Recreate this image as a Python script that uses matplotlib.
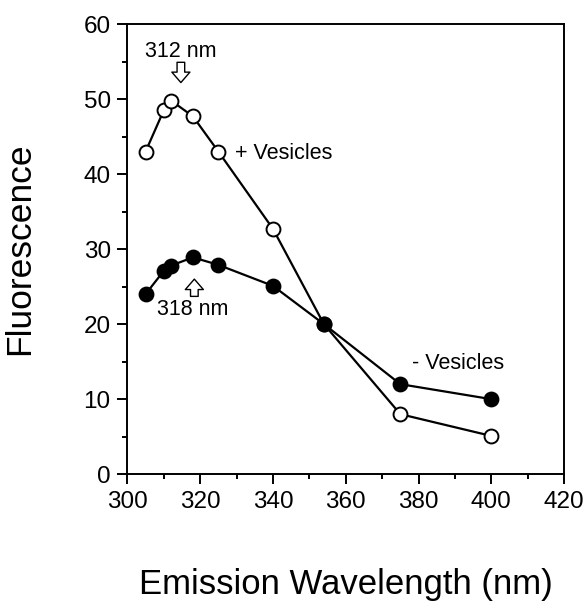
import matplotlib
matplotlib.use('Agg')
import matplotlib.pyplot as plt
from matplotlib.ticker import MultipleLocator

# --- Data ---
wl_plus = [305, 310, 312, 318, 325, 340, 354, 375, 400]
fl_plus = [43.0, 48.5, 49.8, 47.7, 43.0, 32.7, 20.0, 8.0, 5.1]

wl_minus = [305, 310, 312, 318, 325, 340, 354, 375, 400]
fl_minus = [24.0, 27.1, 27.8, 28.9, 27.9, 25.1, 20.0, 12.0, 10.0]

x_ticks = [300, 320, 340, 360, 380, 400, 420]
y_ticks = [0, 10, 20, 30, 40, 50, 60]

plt.rcParams['font.family'] = ['Liberation Sans', 'DejaVu Sans']

fig = plt.figure(figsize=(5.87, 6.01), dpi=100)
ax = fig.add_axes([0.217, 0.211, 0.744, 0.749])

ax.plot(wl_plus, fl_plus, color='black', lw=1.6, marker='o', ms=10,
        mfc='white', mec='black', mew=1.4, zorder=3)
ax.plot(wl_minus, fl_minus, color='black', lw=1.6, marker='o', ms=10,
        mfc='black', mec='black', mew=1.4, zorder=4)

ax.set_xlim(300, 420)
ax.set_ylim(0, 60)
ax.set_xticks(x_ticks)
ax.set_yticks(y_ticks)
ax.xaxis.set_minor_locator(MultipleLocator(10))
ax.yaxis.set_minor_locator(MultipleLocator(5))
ax.tick_params(which='major', direction='out', length=7, width=1.4,
               labelsize=17.5, pad=5)
ax.tick_params(which='minor', direction='out', length=3.5, width=1.4)
for sp in ax.spines.values():
    sp.set_linewidth(1.4)

ax.set_xlabel('Emission Wavelength (nm)', fontsize=25, labelpad=40)
ax.set_ylabel('Fluorescence', fontsize=25.5, labelpad=34)

# hollow block arrows + annotations
arrow = dict(arrowstyle='simple,head_width=1.3,head_length=0.75,tail_width=0.55',
             fc='white', ec='black', lw=1.0, shrinkA=0, shrinkB=0)
ax.text(314.7, 56.3, '312 nm', fontsize=15.5, ha='center', va='center')
ax.annotate('', xy=(314.7, 52.2), xytext=(314.7, 54.9), arrowprops=arrow)
ax.text(317.9, 21.9, '318 nm', fontsize=15.5, ha='center', va='center')
ax.annotate('', xy=(318.4, 26.0), xytext=(318.4, 23.7), arrowprops=arrow)
ax.text(329.6, 42.8, '+ Vesicles', fontsize=15.5, ha='left', va='center')
ax.text(378.1, 14.8, '- Vesicles', fontsize=15.5, ha='left', va='center')

fig.savefig('out.png', dpi=100)
